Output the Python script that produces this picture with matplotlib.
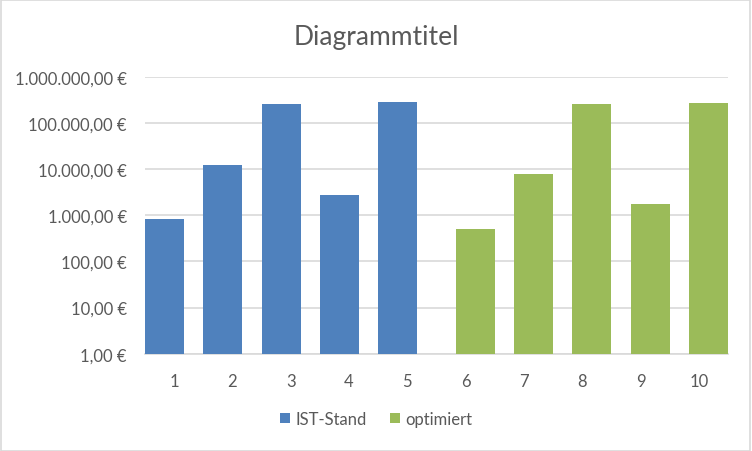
import matplotlib
matplotlib.use("Agg")
import matplotlib.pyplot as plt
import numpy as np
from matplotlib.ticker import FuncFormatter, FixedLocator, NullLocator
from matplotlib.patches import Rectangle

# chart data
categories = ["1", "2", "3", "4", "5", "6", "7", "8", "9", "10"]
ist_stand = [826, 12200, 256000, 2740, 283000, np.nan, np.nan, np.nan, np.nan, np.nan]
optimiert = [np.nan, np.nan, np.nan, np.nan, np.nan, 500, 7800, 256000, 1740, 270000]
series_names = ["IST-Stand", "optimiert"]
y_ticks = [1, 10, 100, 1000, 10000, 100000, 1000000]

plt.rcParams["font.family"] = ["Lato", "DejaVu Sans"]
text_grey = "#595959"
grid_grey = "#d9d9d9"


# german currency format
def euro(v, pos):
    s = "{:,.2f}".format(v)
    s = s.replace(",", "X").replace(".", ",").replace("X", ".")
    return s + " €"


def main():
    fig = plt.figure(figsize=(7.52, 4.52), dpi=100)
    ax = fig.add_axes([0.1928, 0.2153, 0.968 - 0.1928, 0.828 - 0.2153])

    x = np.arange(len(categories))
    width = 0.67
    ax.bar(x - 0.5 + width / 2, ist_stand, width, color="#4F81BD", label=series_names[0], zorder=3)
    ax.bar(x + 0.5 - width / 2, optimiert, width, color="#9BBB59", label=series_names[1], zorder=3)

    ax.set_yscale("log")
    ax.set_ylim(1, 1000000)
    ax.set_xlim(-0.5, len(categories) - 0.5)
    ax.yaxis.set_major_locator(FixedLocator(y_ticks))
    ax.yaxis.set_minor_locator(NullLocator())
    ax.yaxis.set_major_formatter(FuncFormatter(euro))
    ax.set_xticks(x)
    ax.set_xticklabels(categories)

    ax.grid(axis="y", color=grid_grey, linewidth=1.2, zorder=0)
    for side in ["top", "left", "right"]:
        ax.spines[side].set_visible(False)
    ax.spines["bottom"].set_color(grid_grey)
    ax.spines["bottom"].set_linewidth(1.2)
    ax.tick_params(axis="both", length=0, labelsize=12, labelcolor=text_grey)
    ax.tick_params(axis="y", pad=13)
    ax.tick_params(axis="x", pad=14)

    fig.text(0.5, 0.918, "Diagrammtitel", ha="center", va="center", fontsize=19, color=text_grey)

    fig.legend(loc="center", bbox_to_anchor=(0.5, 0.071), ncol=2, frameon=False,
               fontsize=12, labelcolor=text_grey, handlelength=0.6, handleheight=0.6,
               handletextpad=0.3, columnspacing=1.4)

    # chart area border
    fig.patches.append(Rectangle((0.001, 0.001), 0.997, 0.997, transform=fig.transFigure,
                                 fill=False, edgecolor=grid_grey, linewidth=1.2))

    fig.savefig("out.png", dpi=100)


if __name__ == "__main__":
    main()
